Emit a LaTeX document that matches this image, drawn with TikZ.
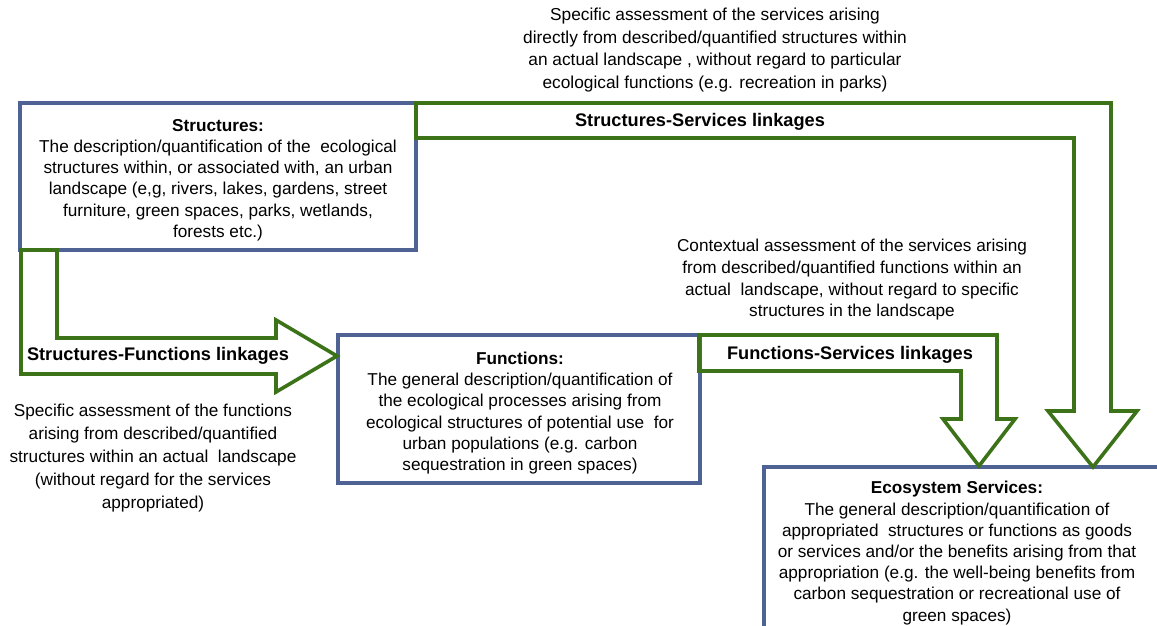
\documentclass[tikz,border=0pt]{standalone}
\usepackage{fontspec}
\setmainfont{Liberation Sans}
\definecolor{boxblue}{RGB}{79,98,148}
\definecolor{arrgreen}{RGB}{60,115,25}
\tikzset{
  boxline/.style={draw=boxblue, line width=3.2pt, inner sep=0pt},
  arrline/.style={draw=arrgreen, line width=3.6pt, line join=miter},
  body/.style={align=center, inner sep=0pt, font=\fontsize{17.2}{21.2}\selectfont},
  note/.style={align=center, inner sep=0pt, font=\fontsize{17.3}{22.4}\selectfont},
  linklabel/.style={inner sep=0pt, font=\fontsize{18.2}{22}\selectfont\bfseries},
}
\begin{document}
\begin{tikzpicture}[x=1pt,y=-1pt]
\useasboundingbox (0,0) rectangle (1157,626);
\clip (0,0) rectangle (1157,626);
% boxes
\node[boxline, minimum width=396pt, minimum height=147pt] (S) at (218,176.5) {};
\node[boxline, minimum width=362pt, minimum height=148pt] (F) at (519,409) {};
\node[boxline, minimum width=420pt, minimum height=180pt] (E) at (974,557) {};
% box texts
\node[body] (St) at (218,180) {\textbf{Structures:}\\The description/quantification of the\ \ ecological\\structures within, or associated with, an urban\\landscape (e,g, rivers, lakes, gardens, street\\furniture, green spaces, parks, wetlands,\\forests etc.)};
\node[body] (Ft) at (520,413) {\textbf{Functions:}\\The general description/quantification of\\the ecological processes arising from\\ecological structures of potential use\ \ for\\urban populations (e.g. carbon\\sequestration in green spaces)};
\node[body] (Et) at (957,553) {\textbf{Ecosystem Services:}\\The general description/quantification of\\appropriated\ \ structures or functions as goods\\or services and/or the benefits arising from that\\appropriation (e.g. the well-being benefits from\\carbon sequestration or recreational use of\\green spaces)};
% block arrows
\draw[arrline] (21,250) -- (57,250) -- (57,338) -- (276,338) -- (276,320) -- (337,356) -- (276,392) -- (276,374) -- (21,374) -- cycle;
\draw[arrline] (416,103) -- (1111,103) -- (1111,411) -- (1137,411) -- (1093,467) -- (1048,411) -- (1074,411) -- (1074,138) -- (416,138) -- cycle;
\draw[arrline] (699,335) -- (997,335) -- (997,419) -- (1015,419) -- (979,466) -- (943,419) -- (961,419) -- (961,371) -- (699,371) -- cycle;
% linkage labels
\node[linklabel] (SF) at (158,356) {Structures-Functions linkages};
\node[linklabel] (SS) at (700,122) {Structures-Services linkages};
\node[linklabel] (FS) at (850,355) {Functions-Services linkages};
% annotations
\node[note] (A1) at (715,50) {Specific assessment of the services arising\\directly from described/quantified structures within\\an actual landscape , without regard to particular\\ecological functions (e.g. recreation in parks)};
\node[body, font=\fontsize{17.2}{21.7}\selectfont] (A2) at (852,280) {Contextual assessment of the services arising\\from described/quantified functions within an\\actual\ \ landscape, without regard to specific\\structures in the landscape};
\node[note, font=\fontsize{17.2}{23}\selectfont] (A3) at (153,458) {Specific assessment of the functions\\arising from described/quantified\\structures within an actual\ \ landscape\\(without regard for the services\\appropriated)};
\end{tikzpicture}
\end{document}
